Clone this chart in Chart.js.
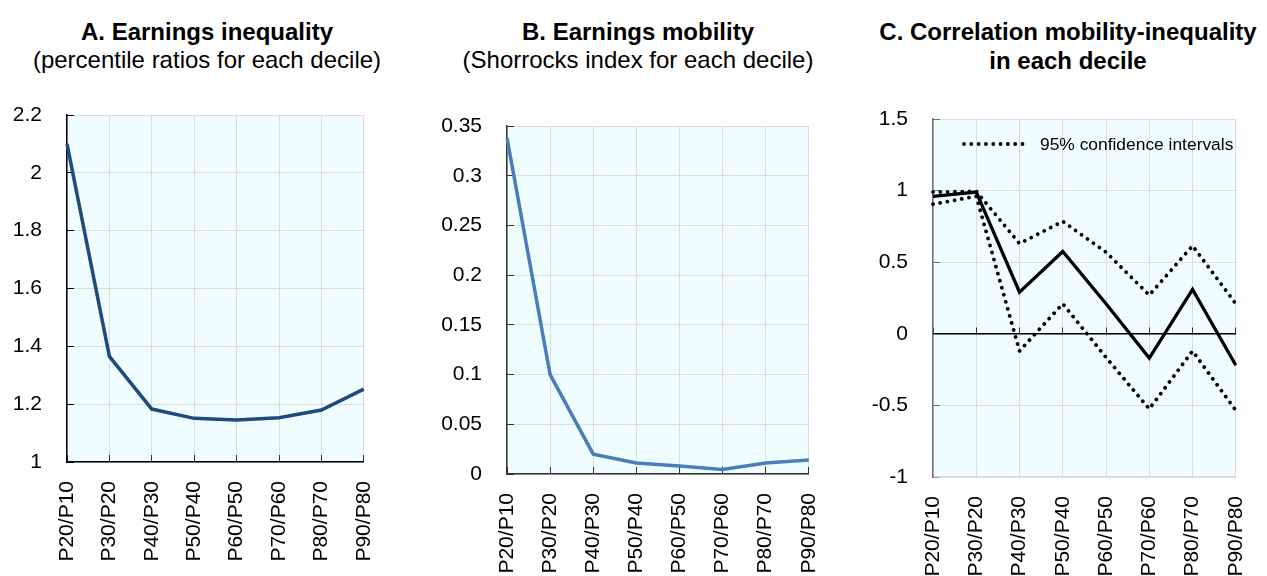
<!DOCTYPE html>
<html><head><meta charset="utf-8">
<script src="https://cdn.jsdelivr.net/npm/chart.js@4/dist/chart.umd.min.js"></script>
<style>
html,body{margin:0;padding:0;background:#fff;overflow:hidden;width:1267px;height:576px;position:relative;}
.panel{position:absolute;top:0;height:576px;}
canvas{display:block;}
.title{position:absolute;text-align:center;white-space:nowrap;color:#000;
  font-family:'Liberation Sans',Arial,Helvetica,sans-serif;font-size:24px;line-height:28px;}
.title b{font-weight:bold;}
</style></head><body>
<div class="title" style="left:7px;width:400px;top:18px"><b>A. Earnings inequality</b><br>(percentile ratios for each decile)</div>
<div class="title" style="left:438px;width:400px;top:18px"><b>B. Earnings mobility</b><br>(Shorrocks index for each decile)</div>
<div class="title" style="left:868px;width:400px;top:17px;line-height:29px"><b>C. Correlation mobility-inequality<br>in each decile</b></div>
<div class="panel" style="left:0px;width:415px"><canvas id="cA" width="415" height="576" style="width:415px;height:576px"></canvas></div>
<div class="panel" style="left:420px;width:440px"><canvas id="cB" width="440" height="576" style="width:440px;height:576px"></canvas></div>
<div class="panel" style="left:860px;width:420px"><canvas id="cC" width="420" height="576" style="width:420px;height:576px"></canvas></div>
<script>
// ---- Data ----
const categories = ['P20/P10','P30/P20','P40/P30','P50/P40','P60/P50','P70/P60','P80/P70','P90/P80'];
const inequalityRatios = [2.10, 1.365, 1.183, 1.151, 1.145, 1.153, 1.180, 1.252];
const shorrocksIndex = [0.338, 0.100, 0.020, 0.011, 0.008, 0.0045, 0.011, 0.014];
const correlation = [0.96, 0.99, 0.29, 0.575, 0.21, -0.17, 0.31, -0.22];
const ciUpper = [0.99, 0.995, 0.63, 0.785, 0.57, 0.27, 0.615, 0.21];
const ciLower = [0.905, 0.96, -0.12, 0.21, -0.165, -0.525, -0.12, -0.535];
const ticksA = [1, 1.2, 1.4, 1.6, 1.8, 2, 2.2];
const ticksB = [0, 0.05, 0.1, 0.15, 0.2, 0.25, 0.3, 0.35];
const ticksC = [-1, -0.5, 0, 0.5, 1, 1.5];
const ciLegendLabel = '95% confidence intervals';

const FONT = "'Liberation Sans', Arial, Helvetica, sans-serif";
Chart.defaults.font.family = FONT;
Chart.defaults.color = '#000';

const GRID = '#DCDCDC';
const plotBg = {
  id: 'plotBg',
  beforeDraw(chart) {
    const {ctx, chartArea: a} = chart;
    ctx.save();
    ctx.fillStyle = '#F0FDFF';
    ctx.fillRect(a.left, a.top, a.right - a.left, a.bottom - a.top);
    ctx.restore();
  }
};

// in-plot legend sample for the confidence-interval series (panel C)
const ciLegend = {
  id: 'ciLegend',
  afterDraw(chart) {
    const {ctx, chartArea: a} = chart;
    const ds = chart.data.datasets[1];
    const y = a.top + 25;
    ctx.save();
    ctx.strokeStyle = ds.borderColor;
    ctx.lineWidth = ds.borderWidth;
    ctx.lineCap = 'round';
    ctx.setLineDash(ds.borderDash);
    ctx.beginPath();
    ctx.moveTo(a.left + 31, y);
    ctx.lineTo(a.left + 91, y);
    ctx.stroke();
    ctx.setLineDash([]);
    ctx.fillStyle = '#000';
    ctx.font = '17.4px ' + FONT;
    ctx.textBaseline = 'middle';
    ctx.textAlign = 'left';
    ctx.fillText(ciLegendLabel, a.left + 107, y + 1);
    ctx.restore();
  }
};

function yScale(ticks, width, axisColor) {
  return {
    min: ticks[0], max: ticks[ticks.length - 1],
    afterBuildTicks: s => { s.ticks = ticks.map(v => ({value: v})); },
    afterFit: s => { s.width = width; },
    ticks: {font: {size: 21}, color: '#000', padding: 32,
      callback: v => String(+Number(v).toFixed(3))},
    grid: {color: GRID, lineWidth: 1, tickLength: -7, tickColor: axisColor, tickWidth: 1},
    border: {color: axisColor, width: 1.5}
  };
}
function xScale(height, borderColor, drawTicks) {
  return {
    type: 'category',
    afterFit: s => { s.height = height; },
    ticks: {font: {size: 21}, color: '#000', minRotation: 90, maxRotation: 90,
      padding: drawTicks ? 26 : 19, autoSkip: false},
    grid: {color: GRID, lineWidth: 1, drawTicks: drawTicks, tickLength: -7, tickColor: '#333'},
    border: {color: borderColor, width: 1.5}
  };
}
const noTitles = {title: {display: false}, subtitle: {display: false}};

// Panel A
new Chart(document.getElementById('cA'), {
  type: 'line',
  data: {labels: categories, datasets: [{
    label: 'Earnings inequality', data: inequalityRatios,
    borderColor: '#1F4A7E', borderWidth: 3.5, pointRadius: 0, tension: 0, fill: false
  }]},
  options: {
    responsive: false, animation: false, devicePixelRatio: 1,
    layout: {padding: {left: 0, right: 25, top: 115, bottom: 0}},
    plugins: Object.assign({legend: {display: false}, tooltip: {enabled: false}}, noTitles),
    scales: {x: xScale(114, '#000', true), y: yScale(ticksA, 67, '#000')}
  },
  plugins: [plotBg]
});

// Panel B
new Chart(document.getElementById('cB'), {
  type: 'line',
  data: {labels: categories, datasets: [{
    label: 'Earnings mobility', data: shorrocksIndex,
    borderColor: '#4A7EBB', borderWidth: 3.5, pointRadius: 0, tension: 0, fill: false
  }]},
  options: {
    responsive: false, animation: false, devicePixelRatio: 1,
    layout: {padding: {left: 0, right: 30, top: 126, bottom: 0}},
    plugins: Object.assign({legend: {display: false}, tooltip: {enabled: false}}, noTitles),
    scales: {x: xScale(102, '#333', true), y: yScale(ticksB, 87, '#333')}
  },
  plugins: [plotBg]
});

// Panel C
const dotted = {borderColor: '#000', borderWidth: 3.8, borderDash: [0.01, 7.3], borderCapStyle: 'round',
  pointRadius: 0, tension: 0, fill: false};
new Chart(document.getElementById('cC'), {
  type: 'line',
  data: {labels: categories, datasets: [
    {label: 'Correlation', data: correlation, borderColor: '#000', borderWidth: 3.3,
      pointRadius: 0, tension: 0, fill: false, xAxisID: 'x'},
    Object.assign({label: ciLegendLabel, data: ciUpper, xAxisID: 'x'}, dotted),
    Object.assign({label: ciLegendLabel + ' (lower)', data: ciLower, xAxisID: 'x'}, dotted)
  ]},
  options: {
    responsive: false, animation: false, devicePixelRatio: 1,
    layout: {padding: {left: 0, right: 24, top: 119, bottom: 0}},
    plugins: Object.assign({legend: {display: false}, tooltip: {enabled: false}}, noTitles),
    scales: {
      x: xScale(99, GRID, false),
      x2: {
        type: 'category', position: {y: 0},
        afterFit: s => { s.height = 0; },
        ticks: {display: false},
        grid: {drawOnChartArea: false, drawTicks: true, tickLength: -7, tickColor: '#333'},
        border: {color: '#000', width: 1.5}
      },
      y: yScale(ticksC, 73, '#707070')
    }
  },
  plugins: [plotBg, ciLegend]
});
</script>
</body></html>
